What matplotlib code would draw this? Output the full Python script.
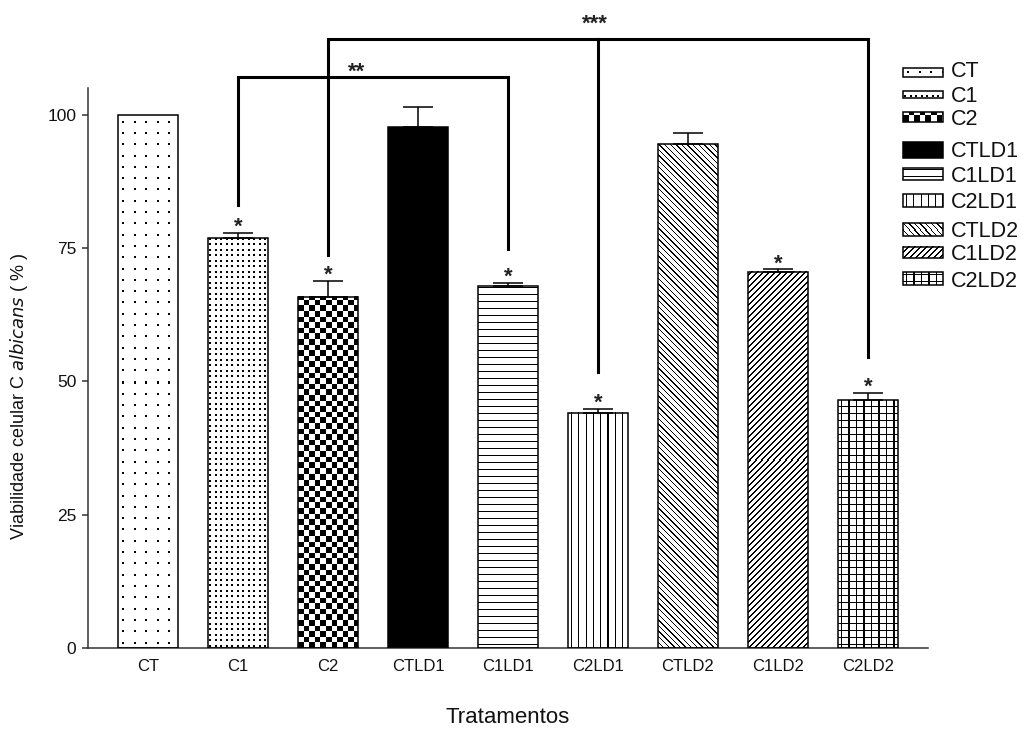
import numpy as np
import matplotlib
matplotlib.use("Agg")
import matplotlib.pyplot as plt
from matplotlib.patches import Rectangle

plt.rcParams["font.family"] = ["Liberation Sans", "DejaVu Sans"]

# mean viability (%) and SEM per treatment
treatments = ["CT", "C1", "C2", "CTLD1", "C1LD1", "C2LD1", "CTLD2", "C1LD2", "C2LD2"]
viability = [100.0, 76.8, 65.9, 97.6, 67.8, 44.1, 94.5, 70.5, 46.5]
viability_sem = [0.0, 1.0, 2.9, 3.8, 0.6, 0.7, 2.1, 0.5, 1.3]
vs_control = [False, True, True, False, True, True, False, True, True]

# group comparisons drawn as brackets over the bars
comparison_groups = [[1, 4], [2, 5, 8]]
comparison_labels = ["**", "***"]

# bracket geometry (data units)
bracket_tops = [107.1, 114.2]
bracket_feet = [[83.1, 74.8], [73.6, 51.8, 54.6]]
bracket_label_xy = [(2.32, 106.9), (4.97, 115.9)]

bar_fills = ["sparse_dots", "dense_dots", "checker", "solid", "hlines",
             "vlines", "back_diag", "fwd_diag", "grid"]

W, H = 1027, 731
BAR_W = 2 / 3


def fill_mask(kind, w, h):
    # pixel centres: u from the left edge, v up from the bottom edge
    u = np.arange(w) + 0.5
    v = (np.arange(h) + 0.5)[::-1]
    uu, vv = np.meshgrid(u, v)
    if kind == "sparse_dots":
        return ((uu - 4.5) % 11.5 < 2.0) & ((vv - 4.5) % 11.3 < 2.0)
    if kind == "dense_dots":
        return ((uu - 1.5) % 5.5 < 2.0) & ((vv - 1.5) % 5.5 < 2.0)
    if kind == "checker":
        return ((uu // 5.6) + (vv // 5.6)) % 2 == 0
    if kind == "solid":
        return np.ones_like(uu, dtype=bool)
    if kind == "hlines":
        return (vv - 3) % 7.0 < 1.2
    if kind == "vlines":
        return (uu - 3) % 7.3 < 1.2
    if kind == "back_diag":
        return (uu + vv) % 5.6 < 1.4
    if kind == "fwd_diag":
        return (uu - vv) % 6.0 < 1.4
    if kind == "grid":
        return ((uu - 3) % 7.5 < 1.2) | ((vv - 3) % 7.0 < 1.2)
    return np.zeros_like(uu, dtype=bool)


def paint(ax, kind, x0, x1, y0, y1):
    p0 = ax.transData.transform((x0, y0))
    p1 = ax.transData.transform((x1, y1))
    w = max(int(round(abs(p1[0] - p0[0]))), 1)
    h = max(int(round(abs(p1[1] - p0[1]))), 1)
    mask = fill_mask(kind, w, h)
    rgb = np.where(mask[..., None], 0.0, 1.0) * np.ones(3)
    top_first = p1[1] > p0[1]
    ax.imshow(rgb if top_first else rgb[::-1], extent=(x0, x1, y0, y1),
              origin="upper", interpolation="nearest", aspect="auto", zorder=2)


fig = plt.figure(figsize=(W / 100, H / 100), dpi=100)
ax = fig.add_axes([88 / W, 83 / H, 840 / W, 560 / H])
ax.set_xlim(-2 / 3, len(treatments) - 1 + 2 / 3)
ax.set_ylim(0, 105)

x = np.arange(len(treatments))
means = np.array(viability)
sem = np.array(viability_sem)

for i, kind in enumerate(bar_fills):
    paint(ax, kind, x[i] - BAR_W / 2, x[i] + BAR_W / 2, 0, means[i])
ax.bar(x, means, width=BAR_W, facecolor="none", edgecolor="black",
       linewidth=1.1, zorder=3)

has_err = sem > 0
ax.errorbar(x[has_err], means[has_err], yerr=[np.zeros(has_err.sum()), sem[has_err]],
            fmt="none", ecolor="black", elinewidth=1.1, capsize=10.8,
            capthick=1.1, zorder=3)

for i, flag in enumerate(vs_control):
    if flag:
        ax.annotate("*", (x[i], means[i] + sem[i]), xytext=(0, 0),
                    textcoords="offset points", ha="center", va="baseline",
                    fontsize=16, fontweight="bold", color="#222222")

for group, top, feet, label, (lx, ly) in zip(comparison_groups, bracket_tops,
                                             bracket_feet, comparison_labels,
                                             bracket_label_xy):
    a, b = group[0], group[-1]
    ax.plot([a, a, b, b], [feet[0], top, top, feet[-1]], color="black", lw=2.2,
            clip_on=False, solid_joinstyle="miter", zorder=4)
    for g, f in zip(group[1:-1], feet[1:-1]):
        ax.plot([g, g], [f, top], color="black", lw=2.2, clip_on=False, zorder=4)
    ax.text(lx, ly, label, ha="center", va="baseline", fontsize=16,
            fontweight="bold", color="#222222")

ax.set_xlim(-2 / 3, len(treatments) - 1 + 2 / 3)
ax.set_ylim(0, 105)
ax.set_yticks([0, 25, 50, 75, 100])
ax.set_xticks(x)
ax.set_xticklabels(treatments)
for side in ("top", "right"):
    ax.spines[side].set_visible(False)
for side in ("left", "bottom"):
    ax.spines[side].set_color("#333333")
    ax.spines[side].set_linewidth(1.1)
ax.tick_params(axis="y", direction="out", length=4.5, width=1.1, color="#333333",
               labelsize=12.5, pad=4, labelcolor="#111111")
ax.tick_params(axis="x", length=0, labelsize=12, pad=8, labelcolor="#111111")

ax.set_ylabel("Viabilidade celular C $\\it{albicans}$ ( % )", fontsize=13,
              color="#111111")
ax.yaxis.set_label_coords(-0.069, 0.45)
ax.set_xlabel("Tratamentos", fontsize=16, color="#111111")
ax.xaxis.set_label_coords(0.5, -0.105)

# legend drawn in figure pixel space
leg = fig.add_axes([0, 0, 1, 1])
leg.set_xlim(0, W)
leg.set_ylim(H, 0)
leg.axis("off")
swatch_rows = [(68.3, 77), (91, 98.3), (112.3, 121.7), (142.3, 158.3),
               (167.7, 179.7), (194.3, 206.7), (223.3, 235.7), (246.7, 258.3),
               (272.3, 285)]
label_baselines = [76.7, 101.7, 125, 156.7, 181.7, 208, 236.7, 260, 286.7]
for kind, name, (y0, y1), yb in zip(bar_fills, treatments, swatch_rows,
                                     label_baselines):
    paint(leg, kind, 903, 943, y1, y0)
    leg.add_patch(Rectangle((903, y0), 40, y1 - y0, fill=False,
                            edgecolor="black", lw=1.1, zorder=3))
    leg.text(951, yb, name, ha="left", va="baseline", fontsize=15.5,
             color="#111111")
leg.set_xlim(0, W)
leg.set_ylim(H, 0)

fig.savefig("out.png", dpi=100)
